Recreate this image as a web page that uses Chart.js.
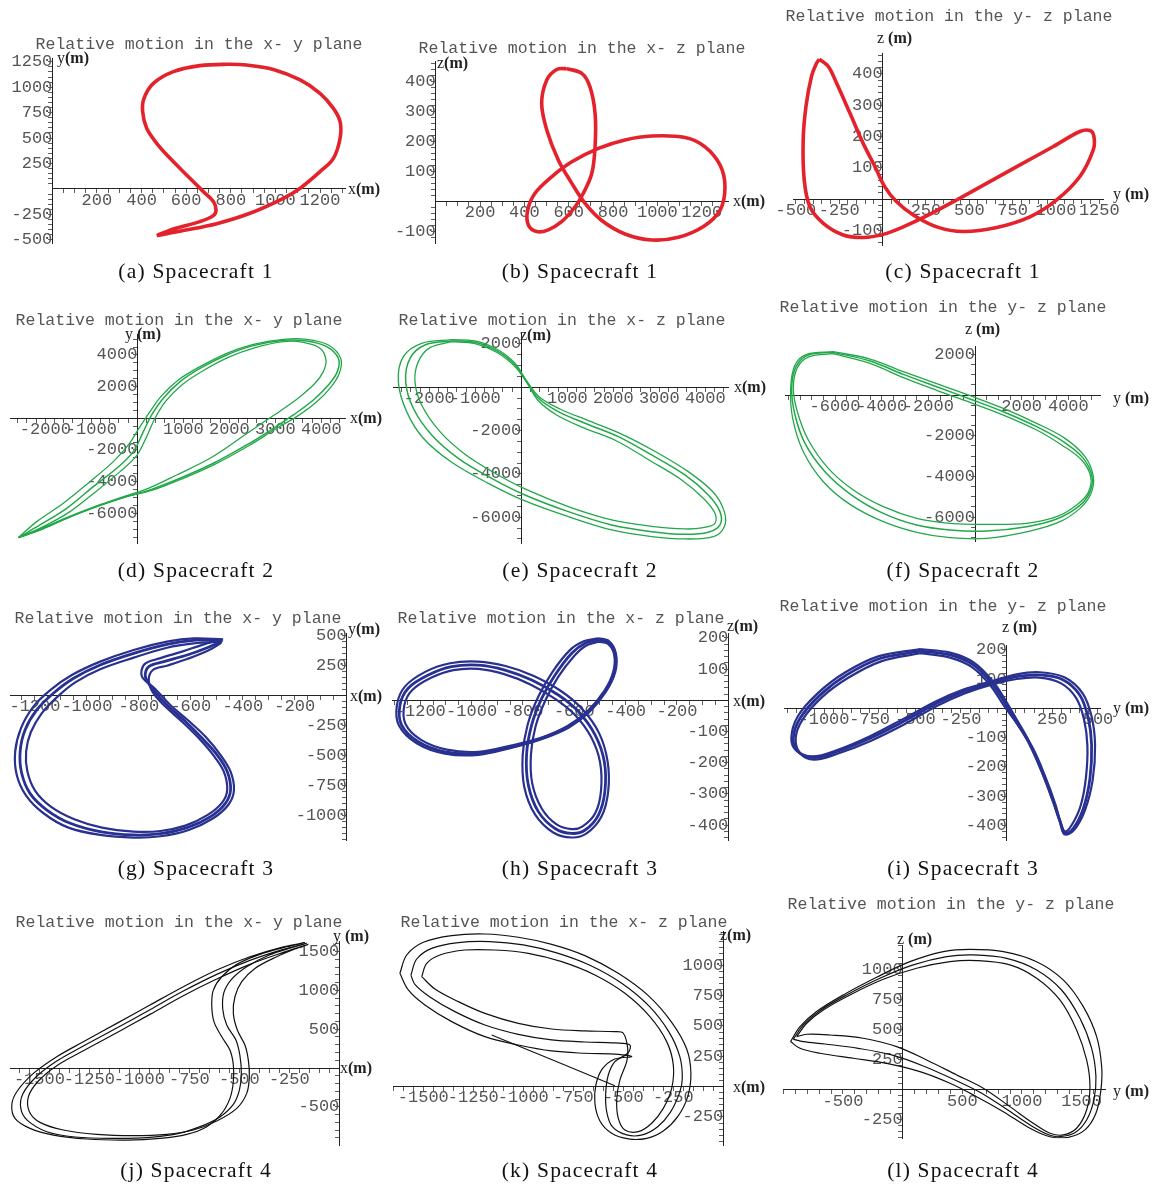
<!DOCTYPE html>
<html><head><meta charset="utf-8">
<script src="https://cdn.jsdelivr.net/npm/chart.js@4.4.0/dist/chart.umd.min.js"></script>
<style>
body{margin:0;background:#fff;}
#fig{position:relative;width:1156px;height:1188px;overflow:hidden;background:#fff;}
#fig canvas{position:absolute;}
.title{position:absolute;font-family:"Liberation Mono",monospace;font-size:16.5px;color:#555;white-space:nowrap;transform:translate(-50%,-50%);z-index:2;}
.axl{position:absolute;font-family:"Liberation Serif",serif;font-size:16px;color:#222;white-space:nowrap;transform:translateY(-50%);z-index:2;}
.axl b{font-weight:bold;}
.cap{position:absolute;font-family:"Liberation Serif",serif;font-size:21.5px;letter-spacing:1.2px;color:#111;white-space:nowrap;transform:translate(-50%,-50%);z-index:2;}
</style></head><body><div id="fig"></div>
<script>
// ---------- data ----------
// (a) Spacecraft 1, x-y
const aX = [468,587,737,886,1036,1111,1200,1260,1290,1290,1260,1200,1111,991,871,782,662,543,453,411,405,423,468,528,602,677,722,734,722,662,543,468];
const aY = [-458,-409,-341,-239,-92,7,170,301,498,661,792,940,1071,1175,1218,1225,1212,1153,1038,891,760,596,449,301,138,-26,-124,-206,-262,-321,-393,-458];
// (b) Spacecraft 1, x-z
const bX = [591,659,696,719,719,704,666,629,568,508,456,418,415,448,523,614,734,854,974,1125,1215,1283,1305,1283,1208,1095,974,854,749,674,614,553,501,478,501,546,591];
const bZ = [444,428,383,294,183,94,28,-17,-67,-94,-100,-78,-28,28,83,133,178,206,219,214,183,122,50,-28,-83,-119,-128,-108,-63,-6,61,139,239,328,406,441,444];
// (c) Spacecraft 1, y-z
const cY = [-365,-313,-265,-188,-112,-44,13,81,177,312,465,658,850,1004,1138,1215,1219,1196,1138,985,792,600,427,254,119,4,-112,-227,-342,-419,-452,-458,-442,-410,-381,-365];
const cZ = [447,424,370,274,178,104,39,-9,-51,-89,-104,-91,-57,-3,72,157,200,219,216,168,109,50,-3,-54,-89,-113,-123,-115,-78,-25,61,189,296,392,434,447];
// (d) Spacecraft 2, x-y : band middle and its two edges
const dX = [-2587,-2116,-1536,-957,-449,-87,130,312,565,928,1362,1942,2522,3174,3681,4116,4370,4348,4152,3826,3391,2957,2377,1652,928,275,-232,-884,-1536,-2116,-2587];
const dY = [-7537,-6737,-5684,-4316,-3158,-2105,-842,211,1263,2316,3158,4000,4589,4926,4884,4526,3789,2947,2105,1158,211,-632,-1684,-2842,-3789,-4526,-4947,-5579,-6316,-7053,-7537];
const dX1 = [-2587,-2188,-1609,-1029,-522,-196,58,275,529,891,1362,1942,2522,3174,3681,4152,4420,4391,4188,3862,3464,3029,2449,1725,1000,348,-232,-884,-1536,-2116,-2587];
const dY1 = [-7537,-6526,-5368,-4000,-2737,-1684,-526,421,1432,2421,3263,4105,4674,4989,4989,4632,3789,2842,1895,947,105,-632,-1684,-2842,-3789,-4526,-4947,-5579,-6316,-7053,-7537];
const dX2 = [-2587,-2043,-1464,-884,-377,-14,203,384,623,986,1420,2000,2565,3174,3609,3971,4101,4043,3862,3536,3138,2739,2232,1580,855,239,-232,-884,-1536,-2116,-2587];
const dY2 = [-7537,-6842,-5895,-4589,-3368,-2358,-1158,0,1095,2147,2989,3874,4463,4842,4800,4421,3684,2947,2211,1368,526,-253,-1263,-2526,-3579,-4421,-4884,-5537,-6274,-7011,-7537];
// (e) Spacecraft 2, x-z
const eX = [-1514,-1007,-500,-138,116,370,804,1384,2109,2833,3558,4065,4319,4319,4065,3558,2833,1964,1022,80,-645,-1370,-1949,-2348,-2514,-2420,-2094,-1514];
const eZ = [2138,2077,1646,1031,262,-508,-1123,-1662,-2277,-3123,-4046,-4969,-5738,-6354,-6692,-6785,-6662,-6354,-5738,-4969,-4200,-3277,-2200,-969,262,1338,1954,2138];
const eX1 = [-1514,-1007,-500,-138,116,384,841,1420,2145,2891,3630,4174,4413,4413,4174,3558,2833,1964,1022,80,-717,-1514,-2130,-2493,-2674,-2565,-2167,-1514];
const eZ1 = [2200,2138,1723,1108,292,-431,-1000,-1508,-2123,-2938,-3892,-4846,-5738,-6431,-6892,-7000,-6892,-6585,-5969,-5246,-4431,-3462,-2354,-1123,262,1415,2031,2200];
const eX2 = [-1514,-1007,-500,-138,116,355,768,1348,2072,2775,3486,3957,4210,4210,3957,3558,2833,1964,1022,80,-572,-1225,-1768,-2167,-2312,-2239,-1986,-1514];
const eZ2 = [2108,2015,1569,954,231,-585,-1277,-1862,-2477,-3354,-4277,-5123,-5815,-6277,-6477,-6538,-6415,-6123,-5508,-4692,-3969,-3092,-2046,-815,262,1185,1831,2108];
// (f) Spacecraft 2, y-z
const fY = [-6071,-4500,-3071,-1643,-214,1214,2643,3786,4643,5014,4900,4429,3500,2214,500,-1071,-2500,-3929,-5286,-6429,-7286,-7714,-7857,-7671,-7143,-6071];
const fZ = [2098,1672,1016,410,-197,-820,-1557,-2295,-3115,-4016,-4836,-5492,-6098,-6475,-6689,-6639,-6393,-5820,-4918,-3770,-2377,-984,328,1393,1967,2098];
const fY1 = [-6071,-4500,-3071,-1643,-214,1214,2643,3857,4714,5071,4957,4500,3643,2357,500,-1071,-2500,-3929,-5357,-6500,-7357,-7814,-7900,-7714,-7214,-6071];
const fZ1 = [2131,1770,1148,557,-33,-656,-1393,-2131,-3033,-4016,-4885,-5574,-6230,-6689,-7049,-7016,-6754,-6230,-5377,-4262,-2787,-1148,328,1475,2000,2131];
const fY2 = [-6071,-4500,-3071,-1643,-214,1214,2643,3714,4571,4957,4857,4357,3500,2214,500,-1071,-2500,-3929,-5214,-6286,-7143,-7614,-7786,-7614,-7100,-6071];
const fZ2 = [2033,1557,852,230,-361,-984,-1721,-2459,-3197,-4016,-4787,-5410,-5984,-6311,-6361,-6311,-6066,-5492,-4672,-3607,-2213,-820,328,1344,1885,2033];
// (g) Spacecraft 3, x-y
const gX = [-479,-589,-692,-820,-949,-1051,-1129,-1193,-1238,-1257,-1251,-1219,-1154,-1064,-949,-820,-717,-614,-524,-467,-447,-460,-499,-563,-627,-692,-743,-775,-762,-704,-614,-537,-486,-479];
const gY = [461,458,425,350,253,142,17,-122,-289,-469,-650,-817,-956,-1067,-1136,-1164,-1153,-1103,-1011,-900,-789,-636,-497,-344,-206,-81,44,156,239,281,336,397,447,461];
const gX1 = [-476,-589,-692,-820,-949,-1058,-1141,-1206,-1254,-1276,-1270,-1234,-1167,-1071,-949,-820,-717,-608,-514,-454,-434,-447,-486,-544,-612,-679,-737,-788,-779,-720,-634,-550,-486,-476];
const gY1 = [467,475,447,378,281,169,44,-94,-275,-469,-664,-836,-983,-1103,-1164,-1186,-1175,-1122,-1025,-908,-789,-636,-497,-344,-206,-81,53,156,258,308,364,425,461,467];
const gX2 = [-483,-589,-692,-820,-949,-1045,-1116,-1174,-1216,-1234,-1229,-1199,-1139,-1051,-942,-820,-717,-621,-535,-479,-460,-473,-512,-569,-634,-698,-746,-762,-746,-692,-614,-537,-486,-483];
const gY2 = [447,433,397,314,217,108,-17,-150,-308,-469,-636,-797,-928,-1031,-1103,-1136,-1131,-1086,-997,-892,-789,-636,-503,-358,-219,-94,25,128,211,247,303,369,433,447];
// (h) Spacecraft 3, x-z
const hX = [-506,-468,-442,-444,-481,-545,-623,-727,-844,-974,-1104,-1208,-1273,-1279,-1247,-1169,-1078,-974,-870,-766,-662,-584,-519,-483,-481,-506,-558,-610,-675,-740,-779,-786,-766,-727,-675,-610,-558,-506];
const hZ = [194,186,151,92,28,-36,-84,-122,-149,-170,-165,-133,-79,-15,39,81,108,113,97,65,17,-36,-111,-197,-293,-368,-416,-427,-411,-357,-272,-175,-79,6,81,151,183,194];
const hX1 = [-506,-465,-438,-440,-478,-543,-621,-725,-842,-974,-1104,-1214,-1283,-1291,-1260,-1179,-1084,-974,-868,-760,-652,-569,-503,-470,-468,-494,-552,-610,-682,-753,-795,-801,-782,-740,-686,-617,-561,-506];
const hZ1 = [199,190,151,92,26,-39,-87,-124,-152,-175,-171,-138,-81,-15,44,92,119,124,110,79,30,-28,-106,-197,-293,-373,-427,-440,-424,-366,-277,-175,-79,12,90,161,190,199];
const hX2 = [-506,-470,-445,-448,-483,-548,-626,-730,-847,-974,-1097,-1197,-1257,-1262,-1231,-1156,-1071,-974,-873,-771,-673,-597,-535,-500,-496,-519,-569,-610,-669,-727,-764,-769,-751,-712,-662,-603,-555,-506];
const hZ2 = [188,182,148,92,30,-34,-82,-120,-145,-165,-158,-127,-77,-15,33,73,97,101,84,51,4,-47,-117,-197,-291,-363,-405,-413,-398,-347,-266,-175,-84,1,76,140,175,188];
// (i) Spacecraft 3, y-z
const iY = [-474,-310,-182,-82,-9,55,128,201,255,292,319,365,420,456,465,447,401,310,182,55,-91,-237,-383,-566,-748,-931,-1058,-1141,-1168,-1131,-1022,-876,-693,-474];
const iZ = [195,182,148,85,17,-48,-125,-227,-318,-386,-426,-409,-341,-239,-125,-34,45,97,114,108,85,57,17,-45,-102,-148,-168,-148,-102,-34,45,114,170,195];
const iY1 = [-474,-310,-179,-77,-4,51,124,192,252,292,316,369,429,471,484,465,416,319,182,55,-91,-237,-383,-566,-748,-931,-1062,-1150,-1179,-1144,-1035,-885,-699,-474];
const iZ1 = [202,190,156,93,25,-34,-114,-216,-313,-386,-430,-415,-347,-244,-125,-28,51,105,123,116,91,64,25,-36,-95,-143,-164,-145,-102,-28,51,122,178,202];
const iY2 = [-474,-310,-186,-88,-15,64,146,215,265,296,319,356,405,434,442,423,380,296,179,55,-88,-234,-380,-562,-745,-927,-1055,-1131,-1155,-1119,-1009,-865,-684,-474];
const iZ2 = [188,173,139,77,9,-59,-139,-239,-324,-389,-420,-398,-332,-236,-127,-36,36,86,105,100,80,50,9,-55,-111,-155,-175,-153,-102,-40,39,105,161,188];
// (j) Spacecraft 4, x-y : outermost, middle and innermost revolutions
const jX1 = [-172,-280,-447,-613,-780,-947,-1113,-1280,-1413,-1530,-1613,-1638,-1622,-1547,-1430,-1263,-1063,-897,-763,-663,-588,-547,-530,-530,-547,-588,-627,-638,-630,-588,-513,-397,-263,-172];
const jY1 = [1614,1562,1433,1262,1047,811,575,339,146,-69,-305,-476,-648,-777,-863,-914,-927,-906,-854,-755,-584,-391,-176,39,232,403,597,811,1004,1176,1335,1464,1562,1614];
const jX2 = [-155,-280,-447,-613,-780,-947,-1113,-1280,-1413,-1505,-1555,-1550,-1497,-1380,-1213,-1030,-863,-730,-613,-513,-463,-450,-455,-472,-510,-530,-522,-488,-422,-313,-213,-155];
const jY2 = [1592,1489,1335,1146,931,691,455,223,30,-167,-369,-562,-700,-798,-854,-871,-854,-798,-682,-519,-326,-112,103,296,489,704,918,1112,1283,1433,1541,1592];
const jX3 = [-163,-280,-447,-613,-780,-947,-1113,-1280,-1413,-1517,-1583,-1593,-1560,-1463,-1322,-1130,-947,-797,-680,-597,-530,-500,-490,-497,-517,-563,-583,-577,-538,-463,-350,-238,-163];
const jY3 = [1605,1528,1386,1206,991,751,515,283,90,-116,-335,-519,-674,-820,-888,-906,-893,-837,-738,-631,-468,-288,-69,159,361,554,760,974,1146,1305,1455,1549,1605];
// (k) Spacecraft 4, x-z
const kX1 = [-1617,-1583,-1500,-1358,-1192,-1025,-858,-692,-525,-375,-258,-183,-162,-178,-228,-300,-383,-475,-558,-617,-642,-637,-605,-542,-458,-525,-692,-858,-1025,-1192,-1358,-1492,-1575,-1617];
const kZ1 = [934,1085,1190,1245,1258,1231,1173,1080,934,750,530,310,110,-82,-247,-365,-426,-431,-385,-283,-137,14,146,228,247,266,275,294,343,412,536,673,797,934];
const kX2 = [-1508,-1483,-1417,-1292,-1142,-975,-808,-642,-492,-367,-283,-250,-258,-300,-358,-425,-492,-525,-533,-517,-483,-478,-500,-542,-692,-858,-1025,-1192,-1325,-1442,-1508];
const kZ2 = [907,1016,1085,1126,1126,1099,1030,920,769,577,371,179,-14,-179,-302,-371,-357,-261,-110,55,206,316,440,453,459,475,522,604,701,805,907];
const kX4 = [-1562,-1533,-1458,-1325,-1167,-1000,-833,-667,-508,-372,-272,-217,-205,-218,-265,-328,-405,-483,-555,-583,-588,-575,-542,-478,-467,-542,-692,-858,-1025,-1192,-1342,-1467,-1542,-1562];
const kZ4 = [920,1052,1140,1187,1195,1168,1102,1000,852,665,451,245,69,-47,-212,-330,-398,-398,-330,-206,-55,96,206,275,343,360,368,385,431,508,618,739,843,920];
const kX3 = [-1158,-542];
const kZ3 = [426,8];
// (l) Spacecraft 4, y-z
const lY1 = [-939,-860,-721,-497,-218,61,341,564,844,1123,1346,1514,1626,1668,1662,1620,1528,1388,1235,1067,844,620,397,145,-134,-413,-693,-860,-939];
const lZ1 = [403,528,653,792,939,1069,1153,1172,1153,1069,917,694,444,194,0,-194,-333,-395,-390,-319,-181,-56,56,153,222,264,306,347,403];
const lY2 = [-888,-804,-665,-441,-162,117,397,620,899,1123,1318,1458,1542,1570,1542,1458,1346,1235,1095,899,676,453,201,-50,-330,-609,-804,-888];
const lZ2 = [444,556,667,792,922,1014,1069,1078,1042,931,750,500,250,28,-167,-319,-375,-361,-278,-139,14,125,250,361,431,458,464,444];
const lY3 = [-916,-832,-693,-469,-190,89,369,592,872,1123,1332,1486,1584,1620,1603,1542,1444,1318,1235,1081,872,648,425,173,-92,-372,-651,-832,-916];
const lZ3 = [422,542,661,792,931,1042,1111,1125,1097,1000,833,597,347,111,-83,-250,-356,-389,-378,-300,-161,-19,89,200,292,347,383,403,422];

// ---------- tick labels ----------
const tk1x = [200,400,600,800,1000,1200];
const tkA_y = [-500,-250,250,500,750,1000,1250];
const tkB_z = [-100,100,200,300,400];
const tkC_y = [-500,-250,250,500,750,1000,1250];
const tk2x = [-2000,-1000,1000,2000,3000,4000];
const tkD_y = [-6000,-4000,-2000,2000,4000];
const tkE_z = [-6000,-4000,-2000,2000];
const tkF_y = [-6000,-4000,-2000,2000,4000];
const tk3x = [-1200,-1000,-800,-600,-400,-200];
const tkG_y = [-1000,-750,-500,-250,250,500];
const tk3z = [-400,-300,-200,-100,100,200];
const tkI_y = [-1000,-750,-500,-250,250,500];
const tk4x = [-1500,-1250,-1000,-750,-500,-250];
const tkJ_y = [-500,500,1000,1500];
const tk4z = [-250,250,500,750,1000];
const tkL_y = [-500,500,1000,1500];

const titles = ['Relative motion in the x- y plane','Relative motion in the x- z plane','Relative motion in the y- z plane'];
const captions = ['(a) Spacecraft 1','(b) Spacecraft 1','(c) Spacecraft 1','(d) Spacecraft 2','(e) Spacecraft 2','(f) Spacecraft 2','(g) Spacecraft 3','(h) Spacecraft 3','(i) Spacecraft 3','(j) Spacecraft 4','(k) Spacecraft 4','(l) Spacecraft 4'];

// ---------- layout / style ----------
const RED='#e3222c', GREEN='#22a84a', BLUE='#283090', BLACK='#111111';
const colL=[0,385,770], colW=[385,385,386];
const rowT=[0,290,590,890], rowH=[290,300,300,298];
const capY=[271,570,868,1170], capX=[196,580,963];

const panels = [
 {col:0,row:0,box:[52.3,58.3,345,243.3],xr:[0,1312],yr:[-534,1284],xt:tk1x,yt:tkA_y,xm:50,ym:50,
  series:[[aX,aY]],color:RED,lw:[3.6],title:[199,44,0],xl:['x','',348,189],yl:['y','',57,58]},
 {col:1,row:0,box:[435.7,61.7,728.3,243.3],xr:[0,1320],yr:[-139,467],xt:tk1x,yt:tkB_z,xm:50,ym:20,
  series:[[bX,bZ]],color:RED,lw:[3.6],title:[582,48,1],xl:['x','',733,201],yl:['z','',437,63]},
 {col:2,row:0,box:[793.3,53.3,1103.3,245],xr:[-515,1273],yr:[-147,466],xt:tkC_y,yt:tkB_z,xm:50,ym:20,
  series:[[cY,cZ]],color:RED,lw:[3.6],title:[949,16,2],xl:['y',' ',1113,194],yl:['z',' ',877,38]},
 {col:0,row:1,box:[10,334.3,345,543.3],xr:[-2768,4514],yr:[-7895,5305],xt:tk2x,yt:tkD_y,xm:200,ym:500,
  series:[[dX,dY],[dX1,dY1],[dX2,dY2]],color:GREEN,lw:[1.5,1.3,1.3],title:[179,320,0],xl:['x','',350,418],yl:['y',' ',125,334]},
 {col:1,row:1,box:[393.3,333.3,728.3,543.3],xr:[-2783,4500],yr:[-7200,2492],xt:tk2x,yt:tkE_z,xm:200,ym:500,
  series:[[eX,eZ],[eX1,eZ1],[eX2,eZ2]],color:GREEN,lw:[1.5,1.3,1.3],title:[562,320,1],xl:['x','',734,387],yl:['z','',520,335]},
 {col:2,row:1,box:[785,346.7,1100,541.7],xr:[-8143,5357],yr:[-7213,2377],xt:tkF_y,yt:tkE_z,xm:500,ym:500,
  series:[[fY,fZ],[fY1,fZ1],[fY2,fZ2]],color:GREEN,lw:[1.5,1.3,1.3],title:[943,307,2],xl:['y',' ',1113,398],yl:['z',' ',965,329]},
 {col:0,row:2,box:[10,633.3,346.7,840],xr:[-1296,0],yr:[-1206,517],xt:tk3x,yt:tkG_y,xm:50,ym:50,
  series:[[gX,gY],[gX1,gY1],[gX2,gY2]],color:BLUE,lw:[2.8,2.2,2.2],title:[178,618,0],xl:['x','',350,696],yl:['y','',348,629]},
 {col:1,row:2,box:[392.3,633.3,728.3,840],xr:[-1309,0],yr:[-448,215],xt:tk3x,yt:tk3z,xm:50,ym:20,
  series:[[hX,hZ],[hX1,hZ1],[hX2,hZ2]],color:BLUE,lw:[2.8,2.2,2.2],title:[561,618,1],xl:['x','',733,701],yl:['z','',727,626]},
 {col:2,row:2,box:[784,645,1100,840],xr:[-1219,511],yr:[-449,216],xt:tkI_y,yt:tk3z,xm:50,ym:20,
  series:[[iY,iZ],[iY1,iZ1],[iY2,iZ2]],color:BLUE,lw:[2.8,2.2,2.2],title:[943,606,2],xl:['y',' ',1113,708],yl:['z',' ',1002,627]},
 {col:0,row:3,box:[10,941.7,339.3,1145],xr:[-1647,0],yr:[-991,1627],xt:tk4x,yt:tkJ_y,xm:50,ym:100,
  series:[[jX1,jY1],[jX2,jY2],[jX3,jY3]],color:BLACK,lw:[1.2,1.2,1.2],title:[179,922,0],xl:['x','',340,1068],yl:['y',' ',333,936]},
 {col:1,row:3,box:[393.3,931.7,723.3,1145],xr:[-1650,0],yr:[-481,1277],xt:tk4x,yt:tk4z,xm:50,ym:50,
  series:[[kX1,kZ1],[kX2,kZ2],[kX4,kZ4],[kX3,kZ3]],color:BLACK,lw:[1.2,1.2,1.2,1.1],title:[564,922,1],xl:['x','',733,1087],yl:['z','',720,935]},
 {col:2,row:3,box:[783.3,945,1105,1138.3],xr:[-1000,1696],yr:[-403,1208],xt:tkL_y,yt:tk4z,xm:100,ym:50,
  series:[[lY1,lZ1],[lY2,lZ2],[lY3,lZ3]],color:BLACK,lw:[1.2,1.2,1.2],title:[951,904,2],xl:['y',' ',1113,1091],yl:['z',' ',897,939]}
];

const fig = document.getElementById('fig');
function addDiv(cls, html, x, y){
  const d=document.createElement('div'); d.className=cls; d.innerHTML=html;
  d.style.left=x+'px'; d.style.top=y+'px'; fig.appendChild(d); return d;
}
function tickList(min,max,step,majors){
  const s=new Set(majors.map(v=>Math.round(v)));
  for(let v=Math.ceil(min/step)*step; v<=max; v+=step){ s.add(Math.round(v)); }
  return Array.from(s).filter(v=>v>=min&&v<=max&&v!==0).sort((p,q)=>p-q);
}
const tickFont={family:'"Liberation Mono", monospace',size:17};
function axisOpts(range,majors,minorStep,pos,isX){
  return {
    type:'linear', min:range[0], max:range[1], position:pos,
    afterBuildTicks:(sc)=>{ sc.ticks = tickList(range[0],range[1],minorStep,majors).map(v=>({value:v})); },
    ticks:{autoSkip:false,maxRotation:0,minRotation:0,font:tickFont,color:'#555',padding:isX?-3:3,
      callback:(v)=> majors.indexOf(Math.round(v))>=0 ? String(v) : ''},
    grid:{drawOnChartArea:false,drawTicks:true,tickLength:4,color:'#333',tickColor:'#333',tickWidth:0.8},
    border:{display:true,color:'#222',width:1}
  };
}

panels.forEach((p,idx)=>{
  const cv=document.createElement('canvas');
  const cl=colL[p.col], ct=rowT[p.row], cw=colW[p.col], ch=rowH[p.row];
  cv.width=cw; cv.height=ch; cv.style.left=cl+'px'; cv.style.top=ct+'px';
  cv.style.width=cw+'px'; cv.style.height=ch+'px';
  fig.appendChild(cv);
  const pad={left:p.box[0]-cl, top:p.box[1]-ct, right:cw-(p.box[2]-cl), bottom:ch-(p.box[3]-ct)};
  const datasets=p.series.map((s,k)=>({
    data:s[0].map((v,i)=>({x:v,y:s[1][i]})),
    showLine:true, pointRadius:0, borderColor:p.color, borderWidth:p.lw[k],
    tension:0.35, fill:false
  }));
  new Chart(cv,{
    type:'scatter',
    data:{datasets},
    options:{
      responsive:false, animation:false, devicePixelRatio:1,
      layout:{padding:pad},
      plugins:{legend:{display:false},tooltip:{enabled:false},title:{display:false}},
      scales:{
        x:axisOpts(p.xr,p.xt,p.xm,{y:0},true),
        y:axisOpts(p.yr,p.yt,p.ym,{x:0},false)
      }
    }
  });
  addDiv('title',titles[p.title[2]],p.title[0],p.title[1]);
  addDiv('axl',p.xl[0]+p.xl[1]+'<b>(m)</b>',p.xl[2],p.xl[3]);
  addDiv('axl',p.yl[0]+p.yl[1]+'<b>(m)</b>',p.yl[2],p.yl[3]);
  addDiv('cap',captions[idx],capX[p.col],capY[p.row]);
});
</script></body></html>
